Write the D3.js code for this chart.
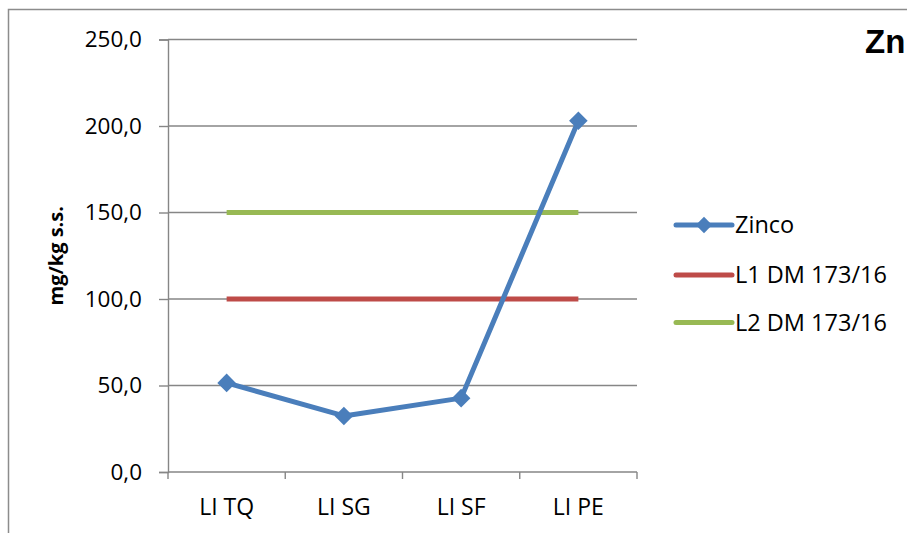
<!DOCTYPE html>
<html>
<head>
<meta charset="utf-8">
<script src="https://cdn.jsdelivr.net/npm/d3@7"></script>
<style>
  html, body { margin: 0; padding: 0; background: #fff; }
  svg { display: block; }
</style>
</head>
<body>
<svg id="chart" width="907" height="533"></svg>
<script>
// Sampling stations and zinc concentrations (mg/kg dry weight)
const categories = ["LI TQ", "LI SG", "LI SF", "LI PE"];
const zinco = [51.5, 32.4, 42.7, 203];
// Regulatory thresholds (DM 173/16)
const limitL1 = [100, 100, 100, 100];
const limitL2 = [150, 150, 150, 150];
const yTicks = [0, 50, 100, 150, 200, 250];

const seriesList = [
  { name: "Zinco", values: zinco, color: "#4A7EBB", marker: true },
  { name: "L1 DM 173/16", values: limitL1, color: "#BE4B48", marker: false },
  { name: "L2 DM 173/16", values: limitL2, color: "#98B954", marker: false }
];

const svg = d3.select("#chart");
const font = "'Open Sans', 'Noto Sans', sans-serif";
const gridColor = "#868686";

const plot = { left: 168, right: 637, top: 39.5, bottom: 472 };

const x = d3.scaleBand().domain(categories).range([plot.left, plot.right]);
const y = d3.scaleLinear().domain([0, 250]).range([plot.bottom, plot.top]);
const cx = d => x(d) + x.bandwidth() / 2;
const fmt = v => v.toFixed(1).replace(".", ",");

// outer chart frame
svg.append("rect")
  .attr("x", 8.5).attr("y", 9.5)
  .attr("width", 1000).attr("height", 1000)
  .attr("fill", "none").attr("stroke", "#8c8c8c").attr("stroke-width", 1.5);

// horizontal gridlines
svg.append("g").selectAll("line")
  .data(yTicks.filter(t => t > 0))
  .join("line")
  .attr("x1", plot.left).attr("x2", plot.right)
  .attr("y1", d => y(d)).attr("y2", d => y(d))
  .attr("stroke", gridColor).attr("stroke-width", 1.4);

// y axis
const yAxis = svg.append("g")
  .attr("transform", `translate(${plot.left},0)`)
  .call(d3.axisLeft(y).tickValues(yTicks).tickFormat(fmt).tickSize(9).tickPadding(17));
yAxis.select(".domain").attr("stroke", gridColor).attr("stroke-width", 1.4);
yAxis.selectAll(".tick line").attr("stroke", gridColor).attr("stroke-width", 1.4);
yAxis.selectAll(".tick text")
  .attr("font-family", font).attr("font-size", 22.5).attr("fill", "#000");

// x axis with tick marks at band boundaries
const xAxisG = svg.append("g").attr("transform", `translate(0,${plot.bottom})`);
xAxisG.append("line")
  .attr("x1", plot.left).attr("x2", plot.right)
  .attr("stroke", gridColor).attr("stroke-width", 1.4);
const bounds = categories.map(c => x(c)).concat([plot.right]);
xAxisG.selectAll("line.tk").data(bounds).join("line")
  .attr("class", "tk")
  .attr("x1", d => d).attr("x2", d => d)
  .attr("y1", 0).attr("y2", 7)
  .attr("stroke", gridColor).attr("stroke-width", 1.4);
xAxisG.selectAll("text").data(categories).join("text")
  .attr("x", d => cx(d)).attr("y", 43)
  .attr("text-anchor", "middle")
  .attr("font-family", font).attr("font-size", 23).attr("fill", "#000")
  .text(d => d);

// y axis title
svg.append("text")
  .attr("transform", `translate(63,${(plot.top + plot.bottom) / 2}) rotate(-90)`)
  .attr("text-anchor", "middle")
  .attr("font-family", font).attr("font-weight", "bold").attr("font-size", 20)
  .text("mg/kg s.s.");

// series lines
const line = d3.line().x((d, i) => cx(categories[i])).y(d => y(d));
const diamond = d3.symbol().type(d3.symbolDiamond2).size(220);

// draw threshold lines first, data series on top
[seriesList[2], seriesList[1], seriesList[0]].forEach(s => {
  svg.append("path")
    .datum(s.values)
    .attr("d", line)
    .attr("fill", "none")
    .attr("stroke", s.color)
    .attr("stroke-width", 5)
    .attr("stroke-linejoin", "round")
    .attr("stroke-linecap", s.marker ? "round" : "butt");
  if (s.marker) {
    svg.append("g").selectAll("path")
      .data(s.values)
      .join("path")
      .attr("transform", (d, i) => `translate(${cx(categories[i])},${y(d)})`)
      .attr("d", diamond)
      .attr("fill", s.color);
  }
});

// legend
const legend = svg.append("g").attr("transform", "translate(676,0)");
const legendY = [225, 275, 322.5];
seriesList.forEach((s, i) => {
  const g = legend.append("g").attr("transform", `translate(0,${legendY[i]})`);
  g.append("line")
    .attr("x1", 0).attr("x2", 56)
    .attr("stroke", s.color).attr("stroke-width", 5).attr("stroke-linecap", "round");
  if (s.marker) {
    g.append("path").attr("transform", "translate(28,0)")
      .attr("d", d3.symbol().type(d3.symbolDiamond2).size(170)).attr("fill", s.color);
  }
  g.append("text")
    .attr("x", 59).attr("y", 0).attr("dy", "0.35em")
    .attr("font-family", font).attr("font-size", 23.5).attr("fill", "#000")
    .text(s.name);
});

// chart title
svg.append("text")
  .attr("x", 865).attr("y", 53)
  .attr("font-family", "'Liberation Sans', Arial, sans-serif")
  .attr("font-weight", "bold").attr("font-size", 33)
  .text("Zn");
</script>
</body>
</html>
